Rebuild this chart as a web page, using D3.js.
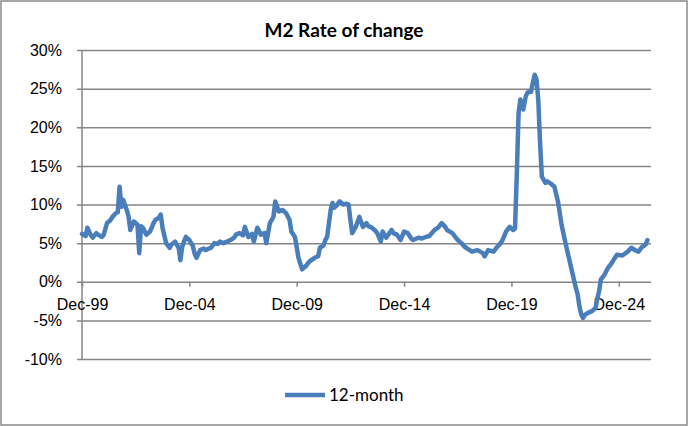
<!DOCTYPE html>
<html>
<head>
<meta charset="utf-8">
<script src="https://cdn.jsdelivr.net/npm/d3@7"></script>
<style>
  html, body { margin: 0; padding: 0; background: #fff; }
  svg { display: block; font-family: Lato, "Open Sans", sans-serif; }
</style>
</head>
<body>
<svg id="chart" width="688" height="426"></svg>
<script>
// months since Dec-1999 and the 12-month M2 change (%)
const monthIdx = [0, 2, 3, 5, 6, 8, 9, 11, 12, 14, 16, 17, 19, 20, 21, 22, 23, 25, 26, 27, 29, 31, 32, 33, 34, 36, 38, 40, 41, 43, 44, 45, 47, 49, 50, 52, 54, 55, 56, 57, 58, 60, 62, 63, 64, 66, 68, 69, 72, 74, 76, 77, 79, 80, 83, 85, 86, 88, 90, 91, 93, 95, 96, 98, 100, 102, 103, 105, 107, 108, 110, 112, 114, 116, 117, 119, 121, 123, 125, 127, 130, 132, 133, 135, 136, 137, 139, 140, 141, 142, 144, 146, 148, 149, 150, 151, 153, 155, 157, 159, 160, 162, 164, 165, 167, 168, 170, 173, 174, 176, 178, 180, 182, 184, 185, 188, 190, 192, 194, 197, 199, 201, 203, 204, 207, 210, 212, 214, 216, 218, 221, 224, 225, 227, 230, 232, 234, 235, 237, 239, 241, 242, 243, 244, 245, 246.6, 248, 249, 251, 252, 253, 254, 255, 256, 257, 259, 260, 262, 264, 266, 268, 270, 272, 274, 276, 277, 278, 279, 280, 281, 283, 285, 287, 288, 289, 290, 292, 294, 296, 297, 299, 302, 305, 307, 309, 311, 313, 315, 316];
const m2Change = [6.2, 5.9, 7.0, 6.0, 5.7, 6.3, 6.1, 5.8, 6.0, 7.6, 8.0, 8.4, 8.9, 9.0, 12.3, 9.7, 10.6, 9.3, 8.5, 6.7, 7.8, 7.4, 3.7, 7.2, 7.0, 6.1, 6.5, 7.6, 8.0, 8.3, 8.7, 7.0, 5.0, 4.4, 4.8, 5.2, 4.4, 2.8, 4.5, 5.2, 5.8, 5.4, 4.6, 3.6, 3.1, 4.1, 4.3, 4.1, 4.4, 5.0, 4.9, 5.2, 5.0, 5.1, 5.4, 5.7, 6.1, 6.3, 6.0, 7.1, 5.8, 6.2, 5.2, 7.0, 6.1, 6.3, 5.0, 7.6, 8.4, 10.4, 9.1, 9.3, 8.9, 8.0, 6.5, 5.8, 3.1, 1.6, 2.0, 2.6, 3.1, 3.3, 4.4, 4.7, 5.4, 5.8, 9.3, 10.2, 9.6, 9.8, 10.4, 10.0, 10.1, 10.0, 8.0, 6.3, 7.1, 8.4, 7.1, 7.6, 7.2, 7.0, 6.6, 6.3, 5.2, 6.5, 5.7, 6.7, 6.3, 6.1, 5.4, 6.5, 6.3, 5.6, 5.4, 5.7, 5.6, 5.8, 5.9, 6.7, 7.0, 7.6, 7.1, 6.7, 6.3, 5.4, 5.0, 4.5, 4.2, 3.9, 4.1, 3.7, 3.3, 4.1, 3.9, 4.5, 5.0, 5.4, 6.5, 7.1, 6.7, 6.9, 13.9, 21.9, 23.6, 22.3, 24.0, 24.5, 24.6, 25.8, 26.8, 26.2, 23.6, 18.0, 13.6, 12.8, 13.0, 12.7, 12.3, 10.4, 7.4, 5.2, 3.2, 1.2, -0.8, -1.6, -3.2, -4.2, -4.7, -4.3, -4.0, -3.8, -3.4, -2.2, -1.2, 0.3, 0.9, 1.8, 2.4, 2.8, 3.5, 3.4, 3.9, 4.4, 4.1, 3.9, 4.5, 4.8, 5.4];
const xTickLabels = ["Dec-99", "Dec-04", "Dec-09", "Dec-14", "Dec-19", "Dec-24"];
const xTickMonths = [0, 60, 120, 180, 240, 300];
const yTicks = [-10, -5, 0, 5, 10, 15, 20, 25, 30];
const seriesName = "12-month";
const chartTitle = "M2 Rate of change";

const svg = d3.select("#chart");
const lineBlue = "#4a7ebb";
const gridGray = "#868686";

// outer frame
svg.append("rect").attr("x", 1).attr("y", 1).attr("width", 686).attr("height", 424)
    .attr("fill", "#fff").attr("stroke", "#8a8a8a").attr("stroke-width", 1.5);

const plot = { left: 82, right: 651, top: 50, bottom: 359 };
const x = d3.scaleLinear().domain([0, 318]).range([plot.left, plot.right]);
const y = d3.scaleLinear().domain([-10, 30]).range([plot.bottom, plot.top]);

// title
svg.append("text").attr("x", 344).attr("y", 37).attr("text-anchor", "middle")
    .style("font-weight", "bold").style("font-size", "19px").attr("fill", "#000")
    .text(chartTitle);

// gridlines + y axis
const yAxis = d3.axisLeft(y).tickValues(yTicks).tickFormat(d => d + "%")
    .tickSize(-(plot.right - plot.left)).tickPadding(20);
const gy = svg.append("g").attr("transform", `translate(${plot.left},0)`).call(yAxis);
gy.select(".domain").remove();
gy.selectAll(".tick line").attr("stroke", gridGray).attr("stroke-width", 1.5).attr("x1", -5);
gy.selectAll(".tick text").attr("fill", "#000").style("font-size", "16px");
svg.append("line").attr("x1", plot.left).attr("x2", plot.left).attr("y1", plot.top).attr("y2", plot.bottom)
    .attr("stroke", gridGray).attr("stroke-width", 1.5);

// x axis sitting on the 0% line
const xAxis = d3.axisBottom(x).tickValues(xTickMonths)
    .tickFormat((d, i) => xTickLabels[i]).tickSize(5).tickPadding(12);
const gx = svg.append("g").attr("transform", `translate(0,${y(0)})`).call(xAxis);
gx.select(".domain").remove();
gx.selectAll(".tick line").attr("stroke", gridGray).attr("stroke-width", 1.5);
gx.selectAll(".tick text").attr("fill", "#000").style("font-size", "16px");

// series line
const points = monthIdx.map((m, i) => [m, m2Change[i]]);
const line = d3.line().x(d => x(d[0])).y(d => y(d[1]));
svg.append("path").datum(points).attr("d", line)
    .attr("fill", "none").attr("stroke", lineBlue).attr("stroke-width", 4.5)
    .attr("stroke-linejoin", "round").attr("stroke-linecap", "round");

// legend
const lg = svg.append("g").attr("transform", "translate(285,395)");
lg.append("line").attr("x1", 0).attr("x2", 40).attr("y1", 0).attr("y2", 0)
    .attr("stroke", lineBlue).attr("stroke-width", 4.5);
lg.append("text").attr("x", 44).attr("y", 6).style("font-size", "17px").attr("fill", "#000")
    .text(seriesName);
</script>
</body>
</html>
